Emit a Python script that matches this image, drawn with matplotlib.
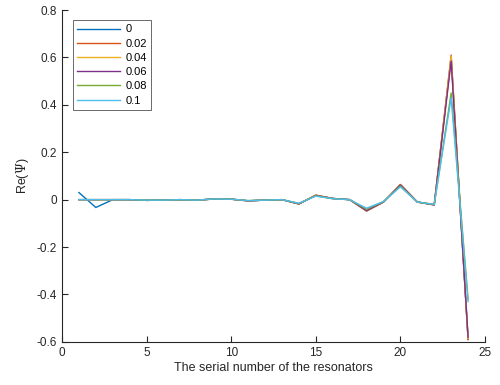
import matplotlib
matplotlib.use("Agg")
import matplotlib.pyplot as plt
import numpy as np

plt.rcParams['font.family'] = ['Liberation Sans', 'DejaVu Sans']
plt.rcParams['mathtext.fontset'] = 'dejavuserif'

x = np.arange(1, 25)
labels = ['0', '0.02', '0.04', '0.06', '0.08', '0.1']

s0 = [0.03, -0.033, 0.0, 0.0, -0.003, -0.002, 0.0, -0.002, 0.003, 0.002, -0.005, -0.002,
      0.0, -0.018, 0.018, 0.005, 0.0, -0.048, -0.01, 0.063, -0.01, -0.022, 0.60, -0.59]
s1 = [0.0, 0.0, 0.0, 0.0, -0.003, -0.002, 0.0, -0.002, 0.003, 0.002, -0.005, -0.002,
      0.0, -0.018, 0.019, 0.005, 0.0, -0.048, -0.01, 0.064, -0.01, -0.022, 0.61, -0.59]
s2 = [0.0, 0.0, 0.0, 0.0, -0.003, -0.002, 0.0, -0.002, 0.003, 0.002, -0.005, -0.002,
      0.0, -0.018, 0.019, 0.005, 0.0, -0.047, -0.01, 0.063, -0.01, -0.022, 0.605, -0.585]
s3 = [0.0, 0.0, 0.0, 0.0, -0.003, -0.002, 0.0, -0.002, 0.003, 0.002, -0.005, -0.002,
      0.0, -0.018, 0.018, 0.005, 0.0, -0.046, -0.01, 0.062, -0.01, -0.022, 0.585, -0.58]
s4 = [0.0, 0.0, 0.0, 0.0, -0.002, -0.002, 0.0, -0.002, 0.003, 0.002, -0.004, -0.002,
      0.0, -0.016, 0.016, 0.004, 0.0, -0.04, -0.008, 0.057, -0.01, -0.02, 0.45, -0.42]
s5 = [0.0, 0.0, 0.0, 0.0, -0.002, -0.002, 0.0, -0.002, 0.003, 0.002, -0.004, -0.002,
      0.0, -0.015, 0.015, 0.004, 0.0, -0.036, -0.008, 0.054, -0.01, -0.02, 0.43, -0.43]
series = [s0, s1, s2, s3, s4, s5]

colors = [(0, 0.447, 0.741), (0.85, 0.325, 0.098), (0.929, 0.694, 0.125),
          (0.494, 0.184, 0.556), (0.466, 0.674, 0.188), (0.301, 0.745, 0.933)]

fig = plt.figure(figsize=(5.0, 3.85), dpi=100)
ax = fig.add_axes([0.124, 0.112, 0.846, 0.862])

for s, c, l in zip(series, colors, labels):
    ax.plot(x, s, color=c, lw=1.0, label=l)

ax.set_xlim(0, 25)
ax.set_ylim(-0.6, 0.8)
ax.set_xticks([0, 5, 10, 15, 20, 25])
ax.set_yticks([-0.6, -0.4, -0.2, 0, 0.2, 0.4, 0.6, 0.8])
ax.set_yticklabels(['-0.6', '-0.4', '-0.2', '0', '0.2', '0.4', '0.6', '0.8'])
ax.spines['top'].set_visible(False)
ax.spines['right'].set_visible(False)
for sp in ['left', 'bottom']:
    ax.spines[sp].set_color('#262626')
    ax.spines[sp].set_linewidth(0.8)
ax.tick_params(direction='in', length=4, width=0.8, colors='#262626', labelsize=8.5,
               labelcolor='#262626')
ax.set_xlabel('The serial number of the resonators', fontsize=9, color='#262626', labelpad=2)
ax.set_ylabel(r'Re($\Psi$)', fontsize=9, color='#262626', labelpad=4)

leg = ax.legend(loc='upper left', bbox_to_anchor=(0.026, 0.97), fontsize=8,
                frameon=True, fancybox=False, edgecolor='#262626', handlelength=3.8,
                handletextpad=0.5, labelspacing=0.38, borderpad=0.4, borderaxespad=0)
leg.get_frame().set_linewidth(0.6)

fig.savefig('out.png', dpi=100)
